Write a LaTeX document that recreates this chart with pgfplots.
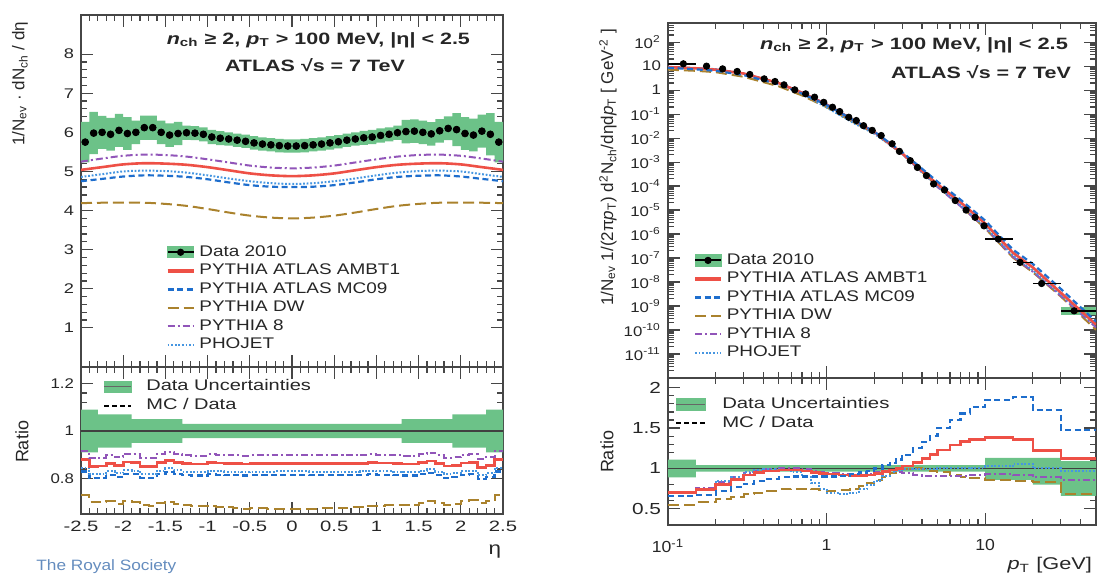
\documentclass[border=0pt]{standalone}
\usepackage{fontspec}
\setmainfont{Liberation Sans}
\usepackage{graphicx}
\usepackage{pgfplots}
\pgfplotsset{compat=1.18}
\usepackage{pgfplotstable}

\newcommand{\sx}[2][1.3]{\scalebox{#1}[1]{#2}}

\definecolor{bandgreen}{RGB}{108,194,136}
\definecolor{ambt}{RGB}{238,80,70}
\definecolor{mcnine}{RGB}{30,110,205}
\definecolor{dwc}{RGB}{170,130,45}
\definecolor{pyeight}{RGB}{145,85,185}
\definecolor{phoc}{RGB}{70,150,225}
\definecolor{axc}{RGB}{70,70,70}
\definecolor{royal}{RGB}{100,140,190}

\tikzset{
 sAMBT/.style={color=ambt, line width=1.3pt},
 sMC/.style={color=mcnine, line width=1.1pt, dash pattern=on 3pt off 1.8pt},
 sDW/.style={color=dwc, line width=1.0pt, dash pattern=on 5.5pt off 2.5pt},
 sPY/.style={color=pyeight, line width=1.0pt, dash pattern=on 3.5pt off 1.5pt on 1pt off 1.5pt},
 sPHO/.style={color=phoc, line width=1.0pt, dash pattern=on 0.9pt off 0.9pt},
}

\def\yminorlist{2e-12}
\foreach \e in {-12,...,2}{\foreach \m in {2,...,9}{\xdef\yminorlist{\yminorlist,\m e\e}}}

\pgfplotsset{atlas/.style={scale only axis, anchor=south west,
 axis line style={axc, line width=0.7pt}, tick style={axc, line width=0.6pt},
 tick align=inside, tick pos=both, xticklabel pos=lower, yticklabel pos=left,
 major tick length=6pt, minor tick length=3pt,
 ticklabel style={font=\fontsize{7}{8}\selectfont, text=black!85},
 legend style={draw=none, fill=none, inner sep=0pt, cells={anchor=west}, row sep=-1.6pt,
   font=\fontsize{7.7}{9}\selectfont, text=black!85},
 legend image code/.code={\draw[##1] (0pt,0pt) -- (13pt,0pt);}}}

% eta table: low edge, centre, data, band lo/hi, ratios (AMBT1, MC09, DW, P8, PHOJET)
\pgfplotstableread{
e c d lo hi r1 r2 r3 r4 r5
-2.5 -2.45 5.75 5.23 6.27 0.879 0.829 0.729 0.915 0.845
-2.4 -2.35 5.98 5.44 6.52 0.850 0.802 0.702 0.885 0.817
-2.3 -2.25 6.00 5.58 6.42 0.852 0.803 0.700 0.887 0.819
-2.2 -2.15 5.95 5.53 6.37 0.864 0.815 0.706 0.899 0.830
-2.1 -2.05 6.05 5.63 6.47 0.854 0.805 0.694 0.889 0.821
-2.0 -1.95 5.97 5.55 6.39 0.869 0.819 0.704 0.905 0.835
-1.9 -1.85 6.00 5.70 6.30 0.866 0.817 0.700 0.902 0.832
-1.8 -1.75 6.12 5.81 6.43 0.851 0.802 0.686 0.886 0.818
-1.7 -1.65 6.12 5.81 6.43 0.851 0.802 0.684 0.886 0.818
-1.6 -1.55 6.00 5.70 6.30 0.867 0.818 0.696 0.903 0.833
-1.5 -1.45 5.93 5.63 6.23 0.876 0.826 0.702 0.912 0.842
-1.4 -1.35 5.97 5.67 6.27 0.868 0.819 0.693 0.904 0.834
-1.3 -1.25 5.99 5.81 6.17 0.863 0.814 0.688 0.898 0.829
-1.2 -1.15 5.98 5.80 6.16 0.861 0.812 0.684 0.896 0.827
-1.1 -1.05 5.95 5.77 6.13 0.861 0.812 0.682 0.896 0.827
-1.0 -0.95 5.88 5.70 6.06 0.866 0.817 0.684 0.902 0.832
-0.9 -0.85 5.85 5.67 6.03 0.865 0.816 0.681 0.900 0.831
-0.8 -0.75 5.83 5.66 6.00 0.863 0.814 0.678 0.898 0.829
-0.7 -0.65 5.80 5.63 5.97 0.862 0.813 0.676 0.897 0.828
-0.6 -0.55 5.77 5.60 5.94 0.861 0.812 0.673 0.896 0.827
-0.5 -0.45 5.73 5.56 5.90 0.862 0.813 0.674 0.897 0.828
-0.4 -0.35 5.70 5.53 5.87 0.863 0.814 0.674 0.898 0.829
-0.3 -0.25 5.68 5.51 5.85 0.863 0.814 0.673 0.898 0.829
-0.2 -0.15 5.66 5.49 5.83 0.864 0.815 0.673 0.899 0.830
-0.1 -0.05 5.65 5.48 5.82 0.864 0.815 0.673 0.899 0.830
0.0 0.05 5.65 5.48 5.82 0.864 0.815 0.673 0.899 0.830
0.1 0.15 5.66 5.49 5.83 0.864 0.815 0.673 0.899 0.830
0.2 0.25 5.68 5.51 5.85 0.863 0.814 0.673 0.898 0.829
0.3 0.35 5.70 5.53 5.87 0.863 0.814 0.674 0.898 0.829
0.4 0.45 5.73 5.56 5.90 0.862 0.813 0.674 0.897 0.828
0.5 0.55 5.76 5.59 5.93 0.862 0.813 0.675 0.897 0.828
0.6 0.65 5.80 5.63 5.97 0.862 0.813 0.676 0.897 0.828
0.7 0.75 5.83 5.66 6.00 0.863 0.814 0.678 0.898 0.829
0.8 0.85 5.86 5.68 6.04 0.864 0.815 0.680 0.899 0.830
0.9 0.95 5.88 5.70 6.06 0.866 0.817 0.684 0.902 0.832
1.0 1.05 5.92 5.74 6.10 0.865 0.816 0.685 0.900 0.831
1.1 1.15 5.95 5.77 6.13 0.865 0.816 0.687 0.900 0.831
1.2 1.25 5.99 5.81 6.17 0.863 0.814 0.688 0.898 0.829
1.3 1.35 6.02 5.72 6.32 0.861 0.812 0.688 0.896 0.827
1.4 1.45 6.03 5.73 6.33 0.861 0.812 0.690 0.896 0.827
1.5 1.55 6.00 5.70 6.30 0.867 0.818 0.696 0.903 0.833
1.6 1.65 5.96 5.66 6.26 0.873 0.823 0.703 0.909 0.839
1.7 1.75 6.04 5.74 6.34 0.863 0.814 0.695 0.898 0.829
1.8 1.85 6.10 5.80 6.41 0.852 0.803 0.689 0.887 0.819
1.9 1.95 6.07 5.65 6.49 0.854 0.805 0.692 0.889 0.821
2.0 2.05 5.97 5.55 6.39 0.865 0.816 0.704 0.900 0.831
2.1 2.15 5.93 5.51 6.35 0.866 0.817 0.708 0.902 0.832
2.2 2.25 6.03 5.61 6.45 0.847 0.799 0.697 0.882 0.814
2.3 2.35 5.95 5.41 6.49 0.854 0.805 0.705 0.889 0.821
2.4 2.45 5.75 5.23 6.27 0.879 0.829 0.729 0.915 0.845
2.5 2.55 5.75 5.23 6.27 0.879 0.829 0.729 0.915 0.845
}\etatab

% closed outline of the data band (upper edge left to right, lower edge right to left), drawn as steps
\pgfplotstableread{
x y
-2.5 6.27
-2.4 6.52
-2.3 6.42
-2.2 6.37
-2.1 6.47
-2.0 6.39
-1.9 6.30
-1.8 6.43
-1.7 6.43
-1.6 6.30
-1.5 6.23
-1.4 6.27
-1.3 6.17
-1.2 6.16
-1.1 6.13
-1.0 6.06
-0.9 6.03
-0.8 6.00
-0.7 5.97
-0.6 5.94
-0.5 5.90
-0.4 5.87
-0.3 5.85
-0.2 5.83
-0.1 5.82
0.0 5.82
0.1 5.83
0.2 5.85
0.3 5.87
0.4 5.90
0.5 5.93
0.6 5.97
0.7 6.00
0.8 6.04
0.9 6.06
1.0 6.10
1.1 6.13
1.2 6.17
1.3 6.32
1.4 6.33
1.5 6.30
1.6 6.26
1.7 6.34
1.8 6.41
1.9 6.49
2.0 6.39
2.1 6.35
2.2 6.45
2.3 6.49
2.4 6.27
2.5 6.27
2.5 5.23
2.4 5.41
2.3 5.61
2.2 5.51
2.1 5.55
2.0 5.65
1.9 5.80
1.8 5.74
1.7 5.66
1.6 5.70
1.5 5.73
1.4 5.72
1.3 5.81
1.2 5.77
1.1 5.74
1.0 5.70
0.9 5.68
0.8 5.66
0.7 5.63
0.6 5.59
0.5 5.56
0.4 5.53
0.3 5.51
0.2 5.49
0.1 5.48
0.0 5.48
-0.1 5.49
-0.2 5.51
-0.3 5.53
-0.4 5.56
-0.5 5.60
-0.6 5.63
-0.7 5.66
-0.8 5.67
-0.9 5.70
-1.0 5.77
-1.1 5.80
-1.2 5.81
-1.3 5.67
-1.4 5.63
-1.5 5.70
-1.6 5.81
-1.7 5.81
-1.8 5.70
-1.9 5.55
-2.0 5.63
-2.1 5.53
-2.2 5.58
-2.3 5.44
-2.4 5.23
-2.5 5.23
}\bandL

\pgfplotstableread{
eta a b c d e
-2.5 5.04 4.75 4.19 5.25 4.86
-2.25 5.11 4.81 4.20 5.33 4.93
-2.0 5.18 4.87 4.20 5.40 5.00
-1.75 5.21 4.90 4.20 5.43 5.02
-1.5 5.20 4.89 4.17 5.42 5.01
-1.25 5.17 4.86 4.12 5.38 4.97
-1.0 5.11 4.80 4.04 5.31 4.90
-0.75 5.03 4.72 3.95 5.23 4.82
-0.5 4.95 4.65 3.87 5.15 4.75
-0.25 4.90 4.61 3.82 5.10 4.70
0 4.88 4.60 3.80 5.08 4.68
0.25 4.90 4.61 3.82 5.10 4.70
0.5 4.95 4.65 3.87 5.15 4.75
0.75 5.03 4.72 3.95 5.23 4.82
1.0 5.11 4.80 4.04 5.31 4.90
1.25 5.17 4.86 4.12 5.38 4.97
1.5 5.20 4.89 4.17 5.42 5.01
1.75 5.21 4.90 4.20 5.43 5.02
2.0 5.18 4.87 4.20 5.40 5.00
2.25 5.11 4.81 4.20 5.33 4.93
2.5 5.04 4.75 4.19 5.25 4.86
}\etamc

\pgfplotstableread{
pt y
0.125 12.5
0.175 10
0.221 7.7
0.273 6.0
0.328 4.5
0.404 2.95
0.473 2.29
0.539 1.66
0.63 1.03
0.738 0.70
0.84 0.51
0.96 0.31
1.09 0.194
1.21 0.128
1.38 0.074
1.54 0.054
1.71 0.033
1.94 0.021
2.21 0.0128
2.59 0.0058
2.88 0.0028
3.37 0.00115
3.74 6e-4
4.26 2.75e-4
4.73 1.23e-4
5.54 6.9e-5
6.48 2.5e-5
7.58 1e-5
8.64 5e-6
9.84 2.2e-6
12.1 6.2e-7
16.6 6.6e-8
22.7 8.7e-9
36.4 6.3e-10
}\ptdata

\pgfplotstableread{
pt a b c d e
0.1 9.1 8.58 7.15 9.1 9.1
0.15 8.14 7.37 6.38 8.25 8.14
0.2 7.12 6.41 5.61 7.30 7.57
0.3 4.93 4.24 3.60 4.77 4.93
0.5 1.96 1.76 1.44 2.0 1.96
0.7 0.776 0.72 0.60 0.80 0.736
1.0 0.251 0.243 0.194 0.259 0.189
1.5 0.0528 0.0534 0.0435 0.0534 0.0406
2.0 0.0181 0.0186 0.0162 0.0181 0.0152
3.0 0.0023 0.00258 0.00225 0.00221 0.00225
5.0 1.2e-4 1.54e-4 9.9e-5 9.2e-5 1.0e-4
7.0 2.11e-5 2.70e-5 1.49e-5 1.44e-5 1.6e-5
10 2.76e-6 3.66e-6 1.74e-6 1.86e-6 2.06e-6
15 1.66e-7 2.23e-7 1.03e-7 1.12e-7 1.26e-7
20 4.05e-8 5.67e-8 2.55e-8 2.7e-8 3.09e-8
30 3.6e-9 5.19e-9 2.49e-9 2.64e-9 3.0e-9
50 1.68e-10 2.25e-10 1.02e-10 1.29e-10 1.46e-10
}\ptmc

\pgfplotstableread{
e r1 r2 r3 r4 r5
0.1 0.70 0.66 0.55 0.70 0.70
0.15 0.74 0.67 0.58 0.76 0.74
0.2 0.80 0.72 0.62 0.83 0.85
0.25 0.86 0.77 0.65 0.89 0.90
0.3 0.92 0.81 0.68 0.94 0.95
0.35 0.95 0.84 0.70 0.97 0.98
0.4 0.97 0.87 0.72 0.99 0.99
0.5 0.98 0.89 0.74 1.01 0.98
0.6 0.98 0.90 0.75 1.01 0.95
0.7 0.97 0.90 0.75 0.99 0.90
0.8 0.95 0.90 0.74 0.97 0.82
0.9 0.94 0.90 0.73 0.95 0.75
1.0 0.93 0.90 0.72 0.94 0.70
1.2 0.92 0.91 0.73 0.93 0.68
1.4 0.91 0.93 0.75 0.92 0.70
1.6 0.91 0.95 0.78 0.92 0.74
1.8 0.92 0.97 0.82 0.93 0.79
2.0 0.94 1.00 0.86 0.95 0.85
2.25 0.96 1.04 0.90 0.97 0.91
2.5 0.98 1.07 0.94 0.98 0.95
2.75 1.00 1.11 0.97 0.96 0.98
3.0 1.03 1.17 0.99 0.94 0.99
3.5 1.07 1.25 1.00 0.92 0.99
4.0 1.12 1.33 0.99 0.91 0.99
4.5 1.17 1.40 0.97 0.91 0.99
5.0 1.23 1.50 0.95 0.91 1.00
6.0 1.29 1.60 0.92 0.91 1.00
7.0 1.33 1.68 0.90 0.91 1.00
8.0 1.36 1.76 0.88 0.92 1.01
10 1.38 1.85 0.86 0.93 1.03
15 1.36 1.88 0.85 0.92 1.06
20 1.22 1.72 0.83 0.89 1.00
30 1.12 1.48 0.68 0.86 0.97
50 1.12 1.48 0.68 0.86 0.97
}\ptratio

\begin{document}
\begin{tikzpicture}
\path[use as bounding box] (0,0) rectangle (549.5pt,288pt);

% ---------- left main ----------
\begin{axis}[atlas, at={(40.5pt,104.5pt)}, width=211pt, height=176pt,
  xmin=-2.5, xmax=2.5, ymin=0, ymax=9,
  xtick={-2.5,-2,-1.5,-1,-0.5,0,0.5,1,1.5,2,2.5}, xticklabels={}, minor x tick num=4,
  ytick={1,2,3,4,5,6,7,8}, yticklabels={\sx{1},\sx{2},\sx{3},\sx{4},\sx{5},\sx{6},\sx{7},\sx{8}}, minor y tick num=4,
  legend style={at={(0.2,0.358)}, anchor=north west}]
\addplot[fill=bandgreen, draw=none, const plot mark left, forget plot] table[x=x,y=y]{\bandL};
\addplot[sDW, forget plot, smooth] table[x=eta,y=c]{\etamc};
\addplot[sMC, forget plot, smooth] table[x=eta,y=b]{\etamc};
\addplot[sPHO, forget plot, smooth] table[x=eta,y=e]{\etamc};
\addplot[sAMBT, forget plot, smooth] table[x=eta,y=a]{\etamc};
\addplot[sPY, forget plot, smooth] table[x=eta,y=d]{\etamc};
\addplot[only marks, mark=*, mark size=1.7pt, black, forget plot] table[x=c,y=d]{\etatab};
\addlegendimage{legend image code/.code={\fill[bandgreen] (0pt,-2.8pt) rectangle (13pt,2.8pt); \draw[black,line width=0.9pt] (0pt,0pt)--(13pt,0pt); \fill[black] (6.5pt,0pt) circle (1.6pt);}}
\addlegendimage{sAMBT, line width=1.8pt}
\addlegendimage{sMC, line width=1.4pt}
\addlegendimage{sDW}
\addlegendimage{sPY}
\addlegendimage{sPHO}
\legend{\sx[1.23]{Data 2010}, \sx[1.23]{PYTHIA ATLAS AMBT1}, \sx[1.23]{PYTHIA ATLAS MC09}, \sx[1.23]{PYTHIA DW}, \sx[1.23]{PYTHIA 8}, \sx[1.23]{PHOJET}}
\end{axis}

% ---------- left ratio ----------
\begin{axis}[atlas, at={(40.5pt,31pt)}, width=211pt, height=73.5pt,
  xmin=-2.5, xmax=2.5, ymin=0.65, ymax=1.27,
  xtick={-2.5,-2,-1.5,-1,-0.5,0,0.5,1,1.5,2,2.5},
  xticklabels={\sx[1.35]{-2.5},\sx[1.35]{-2},\sx[1.35]{-1.5},\sx[1.35]{-1},\sx[1.35]{-0.5},\sx[1.35]{0},\sx[1.35]{0.5},\sx[1.35]{1},\sx[1.35]{1.5},\sx[1.35]{2},\sx[1.35]{2.5}},
  xticklabel style={font=\fontsize{7.5}{8}\selectfont},
  minor x tick num=4,
  ytick={0.8,1,1.2}, yticklabels={\sx[1.2]{0.8},\sx[1.2]{1},\sx[1.2]{1.2}}, minor y tick num=4,
  legend style={at={(0.052,0.945)}, anchor=north west}]
\addplot[fill=bandgreen, draw=none, forget plot] coordinates {(-2.5,1.09) (-2.3,1.09) (-2.3,1.07) (-1.9,1.07) (-1.9,1.05) (-1.3,1.05) (-1.3,1.03) (1.3,1.03) (1.3,1.05) (1.9,1.05) (1.9,1.07) (2.3,1.07) (2.3,1.09) (2.5,1.09) (2.5,0.91) (2.3,0.91) (2.3,0.93) (1.9,0.93) (1.9,0.95) (1.3,0.95) (1.3,0.97) (-1.3,0.97) (-1.3,0.95) (-1.9,0.95) (-1.9,0.93) (-2.3,0.93) (-2.3,0.91) (-2.5,0.91)};
\addplot[black!75, line width=0.6pt, forget plot] coordinates {(-2.5,1) (2.5,1)};
\addplot[sDW, const plot mark left, forget plot] table[x=e,y=r3]{\etatab};
\addplot[sMC, const plot mark left, forget plot] table[x=e,y=r2]{\etatab};
\addplot[sPHO, const plot mark left, forget plot] table[x=e,y=r5]{\etatab};
\addplot[sAMBT, const plot mark left, forget plot] table[x=e,y=r1]{\etatab};
\addplot[sPY, const plot mark left, forget plot] table[x=e,y=r4]{\etatab};
\addlegendimage{legend image code/.code={\fill[bandgreen] (0pt,-2.8pt) rectangle (13.5pt,2.8pt); \draw[black!60,line width=0.6pt] (0pt,0pt)--(13.5pt,0pt); \path[draw=none,fill=none] (0pt,0pt)--(19pt,0pt);}}
\addlegendimage{legend image code/.code={\draw[black,line width=1pt,dash pattern=on 2.2pt off 1.8pt] (0pt,0pt)--(13.5pt,0pt); \path[draw=none,fill=none] (0pt,0pt)--(19pt,0pt);}}
\legend{\sx{Data Uncertainties}, \sx{MC / Data}}
\end{axis}

% ---------- right main ----------
\begin{axis}[atlas, xmode=log, ymode=log, at={(334pt,99pt)}, width=214pt, height=177.5pt,
  xmin=0.1, xmax=50, ymin=1e-12, ymax=630,
  xtick={0.1,1,10}, xticklabels={},
  minor xtick={0.2,0.3,0.4,0.5,0.6,0.7,0.8,0.9,2,3,4,5,6,7,8,9,20,30,40},
  ytick={1e-11,1e-10,1e-9,1e-8,1e-7,1e-6,1e-5,1e-4,1e-3,1e-2,1e-1,1,10,100},
  yticklabels={\sx[1.2]{10\textsuperscript{-11}},\sx[1.2]{10\textsuperscript{-10}},\sx[1.2]{10\textsuperscript{-9}},\sx[1.2]{10\textsuperscript{-8}},\sx[1.2]{10\textsuperscript{-7}},\sx[1.2]{10\textsuperscript{-6}},\sx[1.2]{10\textsuperscript{-5}},\sx[1.2]{10\textsuperscript{-4}},\sx[1.2]{10\textsuperscript{-3}},\sx[1.2]{10\textsuperscript{-2}},\sx[1.2]{10\textsuperscript{-1}},\sx[1.2]{1},\sx[1.2]{10},\sx[1.2]{10\textsuperscript{2}}},
  minor ytick/.expanded={\yminorlist},
  legend style={at={(0.058,0.363)}, anchor=north west}]
\addplot[bandgreen, line width=4pt, forget plot] coordinates {(30,6.3e-10) (50,6.3e-10)};
\addplot[sDW, forget plot] table[x=pt,y=c]{\ptmc};
\addplot[sPY, forget plot] table[x=pt,y=d]{\ptmc};
\addplot[sPHO, forget plot] table[x=pt,y=e]{\ptmc};
\addplot[sAMBT, forget plot] table[x=pt,y=a]{\ptmc};
\addplot[sMC, forget plot] table[x=pt,y=b]{\ptmc};
\addplot[black, line width=0.8pt, forget plot] coordinates {(10,6.2e-7) (15,6.2e-7)};
\addplot[black, line width=0.8pt, forget plot] coordinates {(15,6.6e-8) (20,6.6e-8)};
\addplot[black, line width=0.8pt, forget plot] coordinates {(20,8.7e-9) (30,8.7e-9)};
\addplot[black, line width=0.8pt, forget plot] coordinates {(30,6.3e-10) (50,6.3e-10)};
\addplot[black, line width=0.8pt, forget plot] coordinates {(0.1,12.5) (0.15,12.5)};
\addplot[only marks, mark=*, mark size=1.6pt, black, forget plot] table[x=pt,y=y]{\ptdata};
\addlegendimage{legend image code/.code={\fill[bandgreen] (0pt,-2.8pt) rectangle (13pt,2.8pt); \draw[black,line width=0.9pt] (0pt,0pt)--(13pt,0pt); \fill[black] (6.5pt,0pt) circle (1.6pt);}}
\addlegendimage{sAMBT, line width=1.8pt}
\addlegendimage{sMC, line width=1.4pt}
\addlegendimage{sDW}
\addlegendimage{sPY}
\addlegendimage{sPHO}
\legend{\sx[1.23]{Data 2010}, \sx[1.23]{PYTHIA ATLAS AMBT1}, \sx[1.23]{PYTHIA ATLAS MC09}, \sx[1.23]{PYTHIA DW}, \sx[1.23]{PYTHIA 8}, \sx[1.23]{PHOJET}}
\end{axis}

% ---------- right ratio ----------
\begin{axis}[atlas, xmode=log, at={(334pt,25.5pt)}, width=214pt, height=73.5pt,
  xmin=0.1, xmax=50, ymin=0.3, ymax=2.12,
  xtick={0.1,1,10}, xticklabels={\sx[1.1]{10\textsuperscript{-1}},\sx[1.1]{1},\sx[1.1]{10}},
  xticklabel style={font=\fontsize{8}{9}\selectfont, yshift=-3.5pt},
  yticklabel style={font=\fontsize{8}{9}\selectfont},
  minor xtick={0.2,0.3,0.4,0.5,0.6,0.7,0.8,0.9,2,3,4,5,6,7,8,9,20,30,40},
  ytick={0.5,1,1.5,2}, yticklabels={\sx{0.5},\sx{1},\sx{1.5},\sx{2}}, minor y tick num=4,
  legend style={at={(0.016,0.898)}, anchor=north west}]
\addplot[fill=bandgreen, draw=none, forget plot] coordinates {(0.1,1.11) (0.15,1.11) (0.15,1.04) (10,1.04) (10,1.13) (30,1.13) (30,1.09) (50,1.09) (50,0.66) (30,0.66) (30,0.80) (20,0.80) (20,0.86) (10,0.86) (10,0.96) (0.15,0.96) (0.15,0.89) (0.1,0.89)};
\addplot[black!75, line width=0.6pt, forget plot] coordinates {(0.1,1) (50,1)};
\addplot[sDW, const plot mark left, forget plot] table[x=e,y=r3]{\ptratio};
\addplot[sPY, const plot mark left, forget plot] table[x=e,y=r4]{\ptratio};
\addplot[sPHO, const plot mark left, forget plot] table[x=e,y=r5]{\ptratio};
\addplot[sAMBT, const plot mark left, forget plot] table[x=e,y=r1]{\ptratio};
\addplot[sMC, const plot mark left, forget plot] table[x=e,y=r2]{\ptratio};
\addlegendimage{legend image code/.code={\fill[bandgreen] (0pt,-2.8pt) rectangle (14.5pt,2.8pt); \draw[black!60,line width=0.6pt] (0pt,0pt)--(14.5pt,0pt); \path[draw=none,fill=none] (0pt,0pt)--(21pt,0pt);}}
\addlegendimage{legend image code/.code={\draw[black,line width=1pt,dash pattern=on 2.2pt off 1.8pt] (0pt,0pt)--(14.5pt,0pt); \path[draw=none,fill=none] (0pt,0pt)--(21pt,0pt);}}
\legend{\sx[1.32]{Data Uncertainties}, \sx[1.32]{MC / Data}}
\end{axis}

% ---------- texts ----------
\node[anchor=east, font=\bfseries\fontsize{8.2}{9}\selectfont, text=black!85] at (238.5pt,268pt)
 {\sx[1.31]{\textit{n}\textsubscript{ch} ≥ 2, \textit{p}\textsubscript{T} > 100 MeV, |η| < 2.5}};
\node[font=\bfseries\fontsize{8.2}{9}\selectfont, text=black!85] at (157.5pt,255.5pt) {\sx[1.31]{ATLAS √s = 7 TeV}};
\node[anchor=east, font=\bfseries\fontsize{8.2}{9}\selectfont, text=black!85] at (537.5pt,265.5pt)
 {\sx[1.33]{\textit{n}\textsubscript{ch} ≥ 2, \textit{p}\textsubscript{T} > 100 MeV, |η| < 2.5}};
\node[anchor=east, font=\bfseries\fontsize{8.2}{9}\selectfont, text=black!85] at (539pt,252pt) {\sx[1.31]{ATLAS √s = 7 TeV}};

\node[rotate=90, anchor=east, font=\fontsize{8.5}{10}\selectfont, text=black!85] at (10pt,280.5pt)
 {1/N\textsubscript{ev} · dN\textsubscript{ch} / dη};
\node[rotate=90, anchor=east, font=\fontsize{8.5}{10}\selectfont, text=black!85] at (304pt,277pt)
 {1/N\textsubscript{ev} 1/(2π\textit{p}\textsubscript{T}) d\textsuperscript{2}N\textsubscript{ch}/dηd\textit{p}\textsubscript{T} [ GeV\textsuperscript{-2} ]};
\node[rotate=90, font=\fontsize{9}{10}\selectfont, text=black!85] at (11pt,67pt) {Ratio};
\node[rotate=90, font=\fontsize{9}{10}\selectfont, text=black!85] at (303.5pt,62pt) {Ratio};
\node[font=\fontsize{9}{10}\selectfont, text=black!85] at (247.5pt,12pt) {\sx[1.25]{η}};
\node[anchor=east, font=\fontsize{8.5}{10}\selectfont, text=black!85] at (549.5pt,5.5pt) {\sx[1.28]{\textit{p}\textsubscript{T} [GeV]}};
\node[anchor=south west, inner sep=0pt, font=\fontsize{7.5}{8}\selectfont, text=royal] at (18pt,1pt) {\sx[1.15]{The Royal Society}};
\end{tikzpicture}
\end{document}
